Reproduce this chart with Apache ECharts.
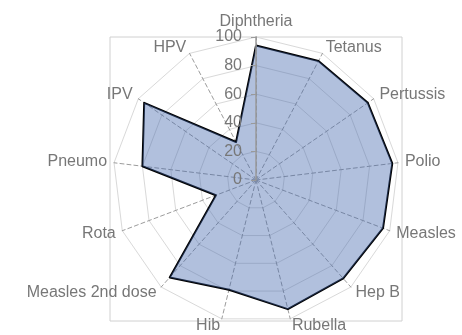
<!DOCTYPE html>
<html>
<head>
<meta charset="utf-8">
<script src="https://cdn.jsdelivr.net/npm/echarts@6/dist/echarts.min.js"></script>
<style>
  html, body { margin: 0; padding: 0; background: #ffffff; }
  #chart { width: 462px; height: 335px; }
</style>
</head>
<body>
<div id="chart"></div>
<script>
// Immunisation coverage (%) per vaccine, listed clockwise from the top
const vaccines = ['Diphtheria', 'Tetanus', 'Pertussis', 'Polio', 'Measles', 'Hep B', 'Rubella',
                  'Hib', 'Measles 2nd dose', 'Rota', 'Pneumo', 'IPV', 'HPV'];
const coverage = [94, 94, 95, 96, 95, 92, 93, 79, 91, 30, 80, 95, 30];
const tickLabels = ['0', '20', '40', '60', '80', '100'];
const axisMin = 0;
const axisMax = 100;
const tickStep = 20;

// The radar runs counter-clockwise: keep the first spoke on top and reverse the others
const order = [0].concat(vaccines.map((_, i) => i).slice(1).reverse());

const FONT = 'Liberation Sans';
const TEXT = '#777777';
const CENTER = [256, 180];
const RADIUS = 143;

const chart = echarts.init(document.getElementById('chart'), null, { renderer: 'canvas' });

chart.setOption({
  backgroundColor: '#ffffff',
  animation: false,
  // plot-area frame
  grid: { left: 110, top: 37, width: 292, height: 284, show: true,
          borderColor: '#d0d0d0', borderWidth: 1, backgroundColor: 'transparent' },
  xAxis: { type: 'value', show: false },
  yAxis: { type: 'value', show: false },
  radar: {
    center: CENTER,
    radius: RADIUS,
    startAngle: 90,
    shape: 'polygon',
    splitNumber: (axisMax - axisMin) / tickStep,
    indicator: order.map(i => ({ name: vaccines[i], min: axisMin, max: axisMax })),
    nameGap: 7,
    axisName: { color: TEXT, fontFamily: FONT, fontSize: 16 },
    splitLine: { lineStyle: { color: '#d9d9d9', width: 1 } },
    splitArea: { show: false },
    axisLine: { lineStyle: { color: '#9c9c9c', width: 1, type: [4, 3] } },
    axisTick: { show: false },
    axisLabel: { show: false }
  },
  // vertical value axis with its tick labels
  polar: { center: CENTER, radius: RADIUS },
  angleAxis: { type: 'value', min: 0, max: 360, startAngle: 90, show: false },
  radiusAxis: {
    type: 'value',
    min: axisMin,
    max: axisMax,
    interval: tickStep,
    z: 5,
    axisLine: { show: true, lineStyle: { color: '#9a9a9a', width: 1.5 } },
    axisTick: { show: true, length: 5, lineStyle: { color: '#9a9a9a', width: 1 } },
    axisLabel: {
      show: true,
      color: TEXT,
      fontFamily: FONT,
      fontSize: 16,
      margin: 14,
      formatter: v => tickLabels[Math.round((v - axisMin) / tickStep)]
    },
    splitLine: { show: false }
  },
  series: [{
    type: 'radar',
    symbol: 'none',
    lineStyle: { color: '#000000', width: 2 },
    areaStyle: { color: 'rgba(70,105,175,0.42)', opacity: 1 },
    data: [{ value: order.map(i => coverage[i]) }]
  }]
});
</script>
</body>
</html>
